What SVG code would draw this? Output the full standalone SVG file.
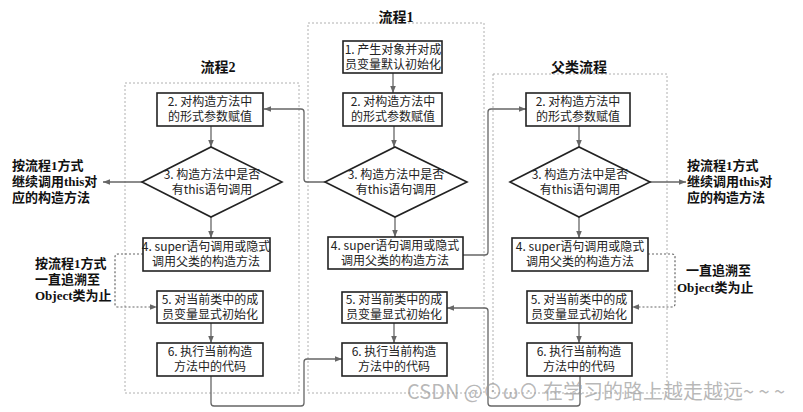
<svg xmlns="http://www.w3.org/2000/svg" width="803" height="412" viewBox="0 0 803 412">
<defs>
<marker id="ah" viewBox="0 0 10 10" refX="10" refY="5" markerWidth="7" markerHeight="7" orient="auto" markerUnits="userSpaceOnUse">
<path d="M0,1 L10,5 L0,9 z" fill="#666"/>
</marker>
<style>
.cont{fill:none;stroke:#b0b0b0;stroke-width:1;stroke-dasharray:2,2}
.box{fill:#fff;stroke:#222;stroke-width:1.6}
.t{font-family:"Noto Sans CJK SC","Liberation Sans",sans-serif;font-size:12px;fill:#222;text-anchor:middle}
.title{font-family:"Liberation Serif","Noto Sans CJK SC",serif;font-size:14px;font-weight:bold;fill:#111;text-anchor:middle}
.side{font-family:"Liberation Serif","Noto Sans CJK SC",serif;font-size:13px;font-weight:bold;fill:#111}
.c{fill:none;stroke:#666;stroke-width:1.3;stroke-linejoin:round}
.cd{fill:none;stroke:#666;stroke-width:1.2;stroke-dasharray:2,2}
.wm{font-family:"Noto Sans CJK SC","Liberation Sans",sans-serif;font-size:20px;fill:#999;fill-opacity:0.7}
</style>
</defs>
<rect width="803" height="412" fill="#fff"/>

<g id="containers">
<rect class="cont" x="125" y="83" width="174" height="310"/>
<rect class="cont" x="308" y="23" width="176" height="370"/>
<rect class="cont" x="493" y="74" width="174" height="319"/>
<text class="title" x="218" y="72">流程2</text>
<text class="title" x="396" y="22">流程1</text>
<text class="title" x="579" y="72">父类流程</text>
</g>

<g id="connectors">
<line class="c" x1="393" y1="73" x2="393" y2="93" marker-end="url(#ah)"/>
<line class="c" x1="394" y1="126" x2="394" y2="147" marker-end="url(#ah)"/>
<line class="c" x1="395" y1="217" x2="395" y2="237" marker-end="url(#ah)"/>
<line class="c" x1="394" y1="323" x2="394" y2="343" marker-end="url(#ah)"/>
<line class="c" x1="211" y1="126" x2="211" y2="147" marker-end="url(#ah)"/>
<line class="c" x1="211" y1="217" x2="211" y2="238" marker-end="url(#ah)"/>
<line class="c" x1="211" y1="323" x2="211" y2="343" marker-end="url(#ah)"/>
<line class="c" x1="579" y1="126" x2="579" y2="147" marker-end="url(#ah)"/>
<line class="c" x1="579" y1="217" x2="579" y2="238" marker-end="url(#ah)"/>
<line class="c" x1="579" y1="323" x2="579" y2="343" marker-end="url(#ah)"/>
<path class="c" d="M325,182 H307 Q304,182 304,179 V112 Q304,109 301,109 H264" marker-end="url(#ah)"/>
<path class="c" d="M463,255 H485 Q488,255 488,252 V112 Q488,109 491,109 H526" marker-end="url(#ah)"/>
<line class="c" x1="142" y1="182" x2="103" y2="182" marker-end="url(#ah)"/>
<line class="c" x1="650" y1="182" x2="686" y2="182" marker-end="url(#ah)"/>
<path class="cd" d="M143,254 H118 Q115,254 115,257 V304 Q115,307 118,307 H157" marker-end="url(#ah)"/>
<path class="cd" d="M648,254 H672 Q675,254 675,257 V304 Q675,307 672,307 H632" marker-end="url(#ah)"/>
<path class="c" d="M211,376 V403 Q211,406 214,406 H301 Q304,406 304,403 V362 Q304,359 307,359 H342" marker-end="url(#ah)"/>
<path class="c" d="M580,376 V403 Q580,406 577,406 H491 Q488,406 488,403 V311 Q488,308 485,308 H447" marker-end="url(#ah)"/>
</g>

<g id="f1-box1"><rect class="box" x="343" y="41" width="99" height="32"/><text class="t" x="393" y="54">1. 产生对象并对成<tspan x="393" dy="15">员变量默认初始化</tspan></text></g>
<g id="f1-box2"><rect class="box" x="343" y="93" width="99" height="33"/><text class="t" x="393" y="106">2. 对构造方法中<tspan x="393" dy="15">的形式参数赋值</tspan></text></g>
<g id="f1-dia"><polygon class="box" points="325,182 395,147 467,182 395,217"/><text class="t" x="396" y="179">3. 构造方法中是否<tspan x="396" dy="15">有this语句调用</tspan></text></g>
<g id="f1-box4"><rect class="box" x="328" y="237" width="135" height="32"/><text class="t" x="395" y="250">4. super语句调用或隐式<tspan x="395" dy="15">调用父类的构造方法</tspan></text></g>
<g id="f1-box5"><rect class="box" x="342" y="292" width="105" height="31"/><text class="t" x="394" y="304">5. 对当前类中的成<tspan x="394" dy="15">员变量显式初始化</tspan></text></g>
<g id="f1-box6"><rect class="box" x="342" y="343" width="105" height="33"/><text class="t" x="394" y="356">6. 执行当前构造<tspan x="394" dy="15">方法中的代码</tspan></text></g>

<g id="f2-box2"><rect class="box" x="157" y="93" width="106" height="33"/><text class="t" x="210" y="106">2. 对构造方法中<tspan x="210" dy="15">的形式参数赋值</tspan></text></g>
<g id="f2-dia"><polygon class="box" points="142,182 211,147 282,182 211,217"/><text class="t" x="212" y="179">3. 构造方法中是否<tspan x="212" dy="15">有this语句调用</tspan></text></g>
<g id="f2-box4"><rect class="box" x="143" y="238" width="127" height="33"/><text class="t" x="206" y="251">4. super语句调用或隐式<tspan x="206" dy="15">调用父类的构造方法</tspan></text></g>
<g id="f2-box5"><rect class="box" x="157" y="291" width="106" height="32"/><text class="t" x="210" y="304">5. 对当前类中的成<tspan x="210" dy="15">员变量显式初始化</tspan></text></g>
<g id="f2-box6"><rect class="box" x="157" y="343" width="106" height="33"/><text class="t" x="210" y="356">6. 执行当前构造<tspan x="210" dy="15">方法中的代码</tspan></text></g>

<g id="p-box2"><rect class="box" x="526" y="93" width="104" height="33"/><text class="t" x="578" y="106">2. 对构造方法中<tspan x="578" dy="15">的形式参数赋值</tspan></text></g>
<g id="p-dia"><polygon class="box" points="510,182 579,147 650,182 579,217"/><text class="t" x="580" y="179">3. 构造方法中是否<tspan x="580" dy="15">有this语句调用</tspan></text></g>
<g id="p-box4"><rect class="box" x="512" y="238" width="136" height="33"/><text class="t" x="580" y="251">4. super语句调用或隐式<tspan x="580" dy="15">调用父类的构造方法</tspan></text></g>
<g id="p-box5"><rect class="box" x="527" y="291" width="105" height="32"/><text class="t" x="579" y="304">5. 对当前类中的成<tspan x="579" dy="15">员变量显式初始化</tspan></text></g>
<g id="p-box6"><rect class="box" x="527" y="343" width="105" height="33"/><text class="t" x="579" y="356">6. 执行当前构造<tspan x="579" dy="15">方法中的代码</tspan></text></g>

<g id="label-left-this"><text class="side" x="12" y="170">按流程1方式<tspan x="12" dy="16">继续调用this对</tspan><tspan x="12" dy="16">应的构造方法</tspan></text></g>
<g id="label-left-object"><text class="side" x="35" y="268">按流程1方式<tspan x="35" dy="16">一直追溯至</tspan><tspan x="35" dy="16">Object类为止</tspan></text></g>
<g id="label-right-this"><text class="side" x="687" y="170">按流程1方式<tspan x="687" dy="16">继续调用this对</tspan><tspan x="687" dy="16">应的构造方法</tspan></text></g>
<g id="label-right-object"><text class="side" x="686" y="275">一直追溯至<tspan x="677" dy="17">Object类为止</tspan></text></g>

<text class="wm" x="407" y="399">CSDN @⊙ω⊙ 在学习的路上越走越远~ ~ ~</text>
</svg>
